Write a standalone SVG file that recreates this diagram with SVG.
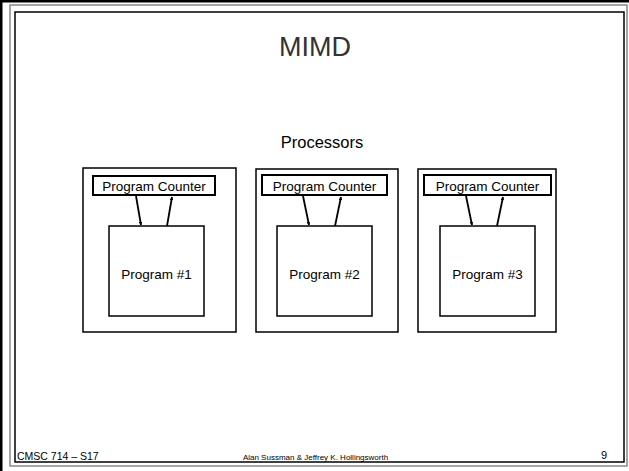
<svg xmlns="http://www.w3.org/2000/svg" width="629" height="471" viewBox="0 0 629 471">
<style>
  text { font-family: "Liberation Sans", Arial, sans-serif; fill: #000; }
  .title { font-size: 27px; fill: #333; text-anchor: middle; }
  .sub { font-size: 16.5px; text-anchor: middle; }
  .lbl { font-size: 13.5px; text-anchor: middle; }
  .proc { fill: #fff; stroke: #000; stroke-width: 1.5; }
  .pc { fill: #fff; stroke: #000; stroke-width: 2; }
  .prog { fill: #fff; stroke: #000; stroke-width: 1.5; }
  .conn { stroke: #000; stroke-width: 1.8; fill: none; marker-end: url(#arr); }
  .foot { font-size: 10.5px; }
</style>
<defs>
  <marker id="arr" viewBox="0 0 6 6" refX="5.5" refY="3" markerWidth="2" markerHeight="2" orient="auto" markerUnits="strokeWidth">
    <path d="M0,0 L6,3 L0,6 z" fill="#000"/>
  </marker>
</defs>
<rect width="629" height="471" fill="#fff"/>
<!-- frame -->
<path d="M1,471 V1 H629" fill="none" stroke="#000" stroke-width="3"/>
<rect x="10" y="5" width="617" height="461" fill="none" stroke="#888" stroke-width="1.5"/>
<rect x="15" y="12" width="609" height="450" fill="none" stroke="#000" stroke-width="1.5"/>
<text class="title" x="315" y="56">MIMD</text>
<text class="sub" x="322" y="148">Processors</text>

<g id="proc1">
  <rect class="proc" x="83" y="168" width="153" height="164"/>
  <rect class="pc" x="93" y="176" width="122" height="19"/>
  <text class="lbl" x="154" y="191">Program Counter</text>
  <rect class="prog" x="109" y="226" width="95" height="90"/>
  <text class="lbl" x="156.5" y="279">Program #1</text>
</g>
<g id="proc2">
  <rect class="proc" x="256" y="169" width="142" height="163"/>
  <rect class="pc" x="262" y="175" width="125" height="20"/>
  <text class="lbl" x="324.5" y="191">Program Counter</text>
  <rect class="prog" x="277" y="226" width="95" height="90"/>
  <text class="lbl" x="324.5" y="279">Program #2</text>
</g>
<g id="proc3">
  <rect class="proc" x="418" y="169" width="138" height="163"/>
  <rect class="pc" x="424" y="175" width="127" height="20"/>
  <text class="lbl" x="487.5" y="191">Program Counter</text>
  <rect class="prog" x="440" y="226" width="95" height="90"/>
  <text class="lbl" x="487.5" y="279">Program #3</text>
</g>
<g id="connectors">
  <line class="conn" x1="136" y1="196" x2="141" y2="225"/>
  <line class="conn" x1="167" y1="226" x2="172" y2="197"/>
  <line class="conn" x1="303" y1="196" x2="309" y2="225"/>
  <line class="conn" x1="335" y1="226" x2="341" y2="197"/>
  <line class="conn" x1="466" y1="196" x2="472" y2="225"/>
  <line class="conn" x1="497" y1="226" x2="503" y2="197"/>
</g>
<text class="foot" x="17" y="460">CMSC 714 – S17</text>
<text x="315.5" y="460" style="font-size:8px;text-anchor:middle">Alan Sussman &amp; Jeffrey K. Hollingsworth</text>
<text class="foot" x="607" y="459" style="font-size:11px;text-anchor:end">9</text>
</svg>
